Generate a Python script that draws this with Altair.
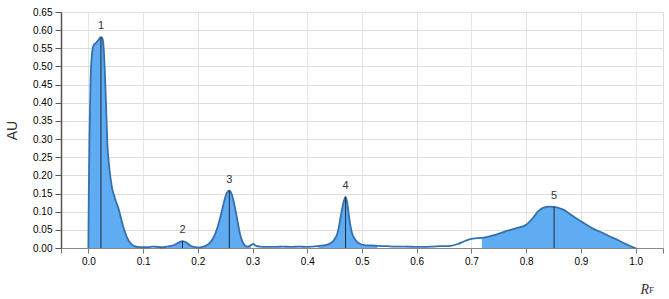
import altair as alt
import pandas as pd

# ---- data ----
rf = [0.000, 0.0008, 0.002, 0.004, 0.007, 0.010, 0.014, 0.018, 0.023, 0.026, 0.028,
      0.0316, 0.0347, 0.038, 0.041, 0.044, 0.047, 0.050, 0.054, 0.057, 0.060, 0.063,
      0.066, 0.069, 0.072, 0.075, 0.079, 0.084, 0.090, 0.100, 0.110, 0.118, 0.125,
      0.135, 0.145, 0.152, 0.158, 0.165, 0.172, 0.179, 0.186, 0.193, 0.202, 0.210,
      0.217, 0.222, 0.227, 0.232, 0.237, 0.242, 0.247, 0.252, 0.2576, 0.262, 0.266,
      0.270, 0.274, 0.278, 0.282, 0.286, 0.291, 0.297, 0.301, 0.306, 0.313, 0.325,
      0.340, 0.355, 0.370, 0.385, 0.400, 0.410, 0.420, 0.430, 0.438, 0.446, 0.451,
      0.455, 0.458, 0.461, 0.465, 0.470, 0.473, 0.476, 0.479, 0.482, 0.486, 0.491,
      0.497, 0.504, 0.515, 0.528, 0.545, 0.560, 0.580, 0.600, 0.615, 0.630, 0.644,
      0.662, 0.675, 0.686, 0.695, 0.702, 0.710, 0.719, 0.727, 0.735, 0.745, 0.753,
      0.762, 0.772, 0.781, 0.790, 0.799, 0.806, 0.814, 0.820, 0.826, 0.832, 0.842,
      0.851, 0.860, 0.869, 0.878, 0.887, 0.896, 0.906, 0.915, 0.924, 0.933, 0.942,
      0.951, 0.960, 0.970, 0.979, 0.988, 0.997, 1.000]
au = [0.000, 0.150, 0.300, 0.460, 0.540, 0.560, 0.565, 0.572, 0.581, 0.576, 0.550,
      0.426, 0.288, 0.225, 0.187, 0.160, 0.145, 0.130, 0.114, 0.098, 0.080, 0.063,
      0.048, 0.035, 0.025, 0.017, 0.010, 0.005, 0.003, 0.002, 0.002, 0.004, 0.003,
      0.002, 0.004, 0.006, 0.009, 0.015, 0.019, 0.015, 0.007, 0.003, 0.001, 0.004,
      0.008, 0.014, 0.024, 0.040, 0.062, 0.090, 0.122, 0.148, 0.158, 0.148, 0.125,
      0.095, 0.062, 0.033, 0.016, 0.007, 0.004, 0.008, 0.011, 0.006, 0.004, 0.003,
      0.003, 0.004, 0.003, 0.004, 0.003, 0.004, 0.005, 0.007, 0.010, 0.017, 0.027,
      0.040, 0.060, 0.086, 0.118, 0.141, 0.125, 0.090, 0.060, 0.040, 0.027, 0.017,
      0.011, 0.008, 0.007, 0.006, 0.005, 0.004, 0.004, 0.003, 0.003, 0.004, 0.005,
      0.006, 0.011, 0.018, 0.023, 0.026, 0.027, 0.028, 0.030, 0.033, 0.037, 0.041,
      0.046, 0.050, 0.054, 0.058, 0.063, 0.072, 0.086, 0.098, 0.106, 0.111, 0.114,
      0.113, 0.110, 0.105, 0.096, 0.086, 0.077, 0.068, 0.060, 0.052, 0.046, 0.040,
      0.033, 0.027, 0.020, 0.013, 0.007, 0.001, 0.000]

peak_rf = [0.023, 0.172, 0.2576, 0.470, 0.851]
peak_au = [0.581, 0.019, 0.158, 0.141, 0.113]
peak_label = ["1", "2", "3", "4", "5"]

fill_start = [0.000, 0.145, 0.205, 0.420, 0.719]
fill_end = [0.100, 0.200, 0.300, 0.528, 1.000]

x_ticks = [-0.05, 0.0, 0.1, 0.2, 0.3, 0.4, 0.5, 0.6, 0.7, 0.8, 0.9, 1.0, 1.05]
y_ticks = [0.0, 0.05, 0.10, 0.15, 0.20, 0.25, 0.30, 0.35, 0.40, 0.45, 0.50, 0.55, 0.60, 0.65]

# ---- tables ----
curve = pd.DataFrame({"rf": rf, "au": au})
rows = []
for i, (a, b) in enumerate(zip(fill_start, fill_end)):
    seg = curve[(curve.rf >= a - 1e-9) & (curve.rf <= b + 1e-9)].copy()
    seg["seg"] = i
    rows.append(seg)
area_df = pd.concat(rows)
peaks = pd.DataFrame({"rf": peak_rf, "au": peak_au, "label": peak_label})

FILL = "#60acf3"
STROKE = "#3470ae"

X = alt.X("rf:Q",
          scale=alt.Scale(domain=[-0.05, 1.05], nice=False, zero=False),
          axis=alt.Axis(values=x_ticks,
                        labelExpr="(datum.value < -0.01 || datum.value > 1.01) ? '' : format(datum.value, '.1f')",
                        gridColor={"condition": {"test": "datum.value < -0.01 || datum.value > 1.01",
                                                 "value": "transparent"},
                                   "value": "#e4e4e4"},
                        title="R", titleFont="Liberation Serif", titleFontStyle="italic",
                        titleFontWeight="normal", titleFontSize=14, titleColor="#333",
                        titleAlign="left", titleBaseline="alphabetic",
                        titleX=579, titleY=45,
                        tickSize=5, labelPadding=3, domainColor="#888", tickColor="#777"))
Y = alt.Y("au:Q",
          scale=alt.Scale(domain=[0, 0.65], nice=False),
          stack=None,
          axis=alt.Axis(values=y_ticks, format=".2f", title="AU",
                        titleFontSize=14, titleFontWeight="normal", titleColor="#333",
                        titleAngle=-90, titleAlign="center", titleBaseline="bottom",
                        titleX=-42, titleY=118,
                        tickSize=6, labelPadding=3, domainColor="#555", domainWidth=1.5,
                        tickColor="#555"))

area = alt.Chart(area_df).mark_area(color=FILL, opacity=1, interpolate="monotone").encode(
    x=X, y=Y, detail="seg:N")
line = alt.Chart(curve).mark_line(color=STROKE, strokeWidth=1.8, interpolate="monotone").encode(
    x=X, y=Y)
rules = alt.Chart(peaks).mark_rule(color="#1d2b3c", strokeWidth=1).encode(
    x=X, y=Y, y2=alt.datum(0))
labels = alt.Chart(peaks).mark_text(dy=-11, fontSize=11, color="#333", baseline="middle",
                                     font="Liberation Sans").encode(x=X, y=Y, text="label:N")
sub = alt.Chart(pd.DataFrame({"t": ["F"]})).mark_text(
    font="Liberation Serif", fontSize=9, color="#333", align="left", baseline="alphabetic"
).encode(x=alt.value(588), y=alt.value(281), text="t:N")

chart = alt.layer(area, line, rules, labels, sub).properties(
    width=602, height=236,
    autosize=alt.AutoSizeParams(type="none"),
    padding={"left": 61, "top": 12, "right": 6, "bottom": 51},
).configure_view(stroke=None).configure_axis(
    labelFont="Liberation Sans", labelFontSize=11, labelColor="#444",
    titleFont="Liberation Sans", gridColor="#e4e4e4", gridWidth=1,
).configure(background="white")

chart.save("out.html", embed_options={"renderer": "svg", "actions": False})
